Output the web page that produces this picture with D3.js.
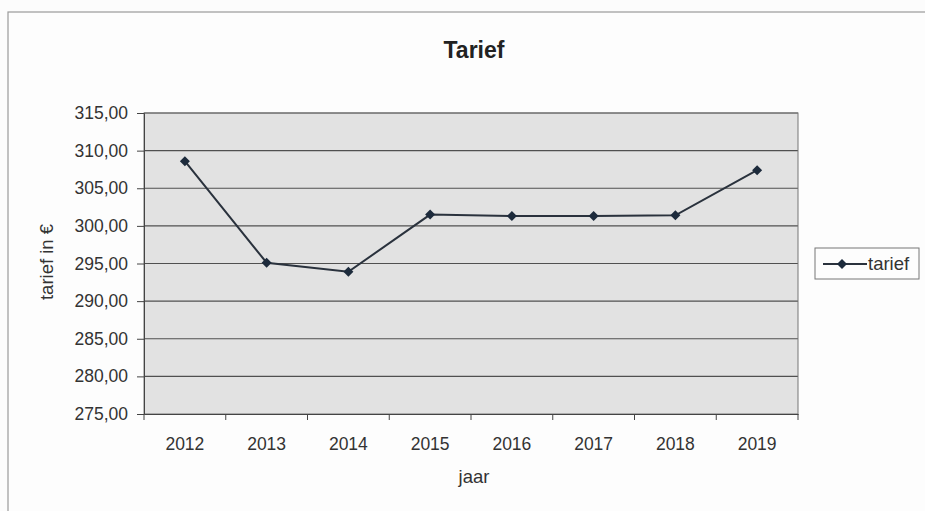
<!DOCTYPE html>
<html><head><meta charset="utf-8">
<script src="https://cdn.jsdelivr.net/npm/d3@7"></script>
<style>body{margin:0;background:#fcfcfc}svg{display:block}</style>
</head><body>
<svg id="c" width="925" height="511"></svg>
<script>
const years = ["2012","2013","2014","2015","2016","2017","2018","2019"];
const tarief = [308.6, 295.1, 293.9, 301.5, 301.3, 301.3, 301.4, 307.4];
const yTicks = [275,280,285,290,295,300,305,310,315];
const title = "Tarief";
const xTitle = "jaar";
const yTitle = "tarief in €";
const seriesName = "tarief";

const svg = d3.select("#c");
const font = "'Liberation Sans', Arial, sans-serif";
const m = {l:144, r:798, t:113, b:414};
const fs = 17.5;

// outer frame
svg.append("rect").attr("x",8).attr("y",12).attr("width",930).attr("height",520)
  .attr("fill","#fdfdfd").attr("stroke","#9a9a9a").attr("stroke-width",1.2);

const x = d3.scaleBand().domain(years).range([m.l,m.r]);
const y = d3.scaleLinear().domain([275,315]).range([m.b,m.t]);

svg.append("rect").attr("x",m.l).attr("y",m.t).attr("width",m.r-m.l).attr("height",m.b-m.t)
  .attr("fill","#e2e2e2");

// grid
svg.append("g").selectAll("line").data(yTicks.slice(1)).join("line")
  .attr("x1",m.l).attr("x2",m.r).attr("y1",d=>y(d)).attr("y2",d=>y(d))
  .attr("stroke","#505050").attr("stroke-width",1.1);

svg.append("rect").attr("x",m.l).attr("y",m.t).attr("width",m.r-m.l).attr("height",m.b-m.t)
  .attr("fill","none").attr("stroke","#777").attr("stroke-width",1);

// y axis
const ya = d3.axisLeft(y).tickValues(yTicks).tickSize(7).tickPadding(9)
  .tickFormat(d=>d3.format(".2f")(d).replace(".",","));
const gy = svg.append("g").attr("transform",`translate(${m.l},0)`).call(ya);
gy.select(".domain").attr("stroke","#444");
gy.selectAll(".tick line").attr("stroke","#444");
gy.selectAll("text").attr("font-family",font).attr("font-size",fs).attr("fill","#333");

// x axis
const xa = d3.axisBottom(x).tickSize(0).tickPadding(24);
const gx = svg.append("g").attr("transform",`translate(0,${m.b})`).call(xa);
gx.select(".domain").attr("stroke","#444");
gx.selectAll("text").attr("font-family",font).attr("font-size",fs).attr("fill","#333");
gx.selectAll(".sep").data(years.concat(["end"])).join("line")
  .attr("x1",(d,i)=>m.l+i*x.step()).attr("x2",(d,i)=>m.l+i*x.step())
  .attr("y1",0).attr("y2",6).attr("stroke","#444");

// line
const line = d3.line().x((d,i)=>x(years[i])+x.bandwidth()/2).y(d=>y(d));
svg.append("path").datum(tarief).attr("d",line).attr("fill","none")
  .attr("stroke","#2a323d").attr("stroke-width",2);
const diamond = d3.symbol().type(d3.symbolDiamond2).size(64);
svg.append("g").selectAll("path").data(tarief).join("path")
  .attr("d",diamond)
  .attr("transform",(d,i)=>`translate(${x(years[i])+x.bandwidth()/2},${y(d)})`)
  .attr("fill","#1d2b3c");

// titles
svg.append("text").attr("x",474).attr("y",58).attr("text-anchor","middle")
  .attr("font-family",font).attr("font-weight","bold").attr("font-size",23).attr("fill","#222").text(title);
svg.append("text").attr("x",474).attr("y",483).attr("text-anchor","middle")
  .attr("font-family",font).attr("font-size",fs+1).attr("fill","#333").text(xTitle);
svg.append("text").attr("transform","translate(53,262) rotate(-90)").attr("text-anchor","middle")
  .attr("font-family",font).attr("font-size",fs+1).attr("fill","#333").text(yTitle);

// legend
const lg = svg.append("g");
lg.append("rect").attr("x",815).attr("y",248).attr("width",104).attr("height",31)
  .attr("fill","#fdfdfd").attr("stroke","#777");
lg.append("line").attr("x1",823).attr("x2",867).attr("y1",264).attr("y2",264)
  .attr("stroke","#2a323d").attr("stroke-width",2);
lg.append("path").attr("d",diamond).attr("transform","translate(842,264)").attr("fill","#1d2b3c");
lg.append("text").attr("x",868).attr("y",270).attr("font-family",font).attr("font-size",fs+1)
  .attr("fill","#333").text(seriesName);
</script>
</body></html>
